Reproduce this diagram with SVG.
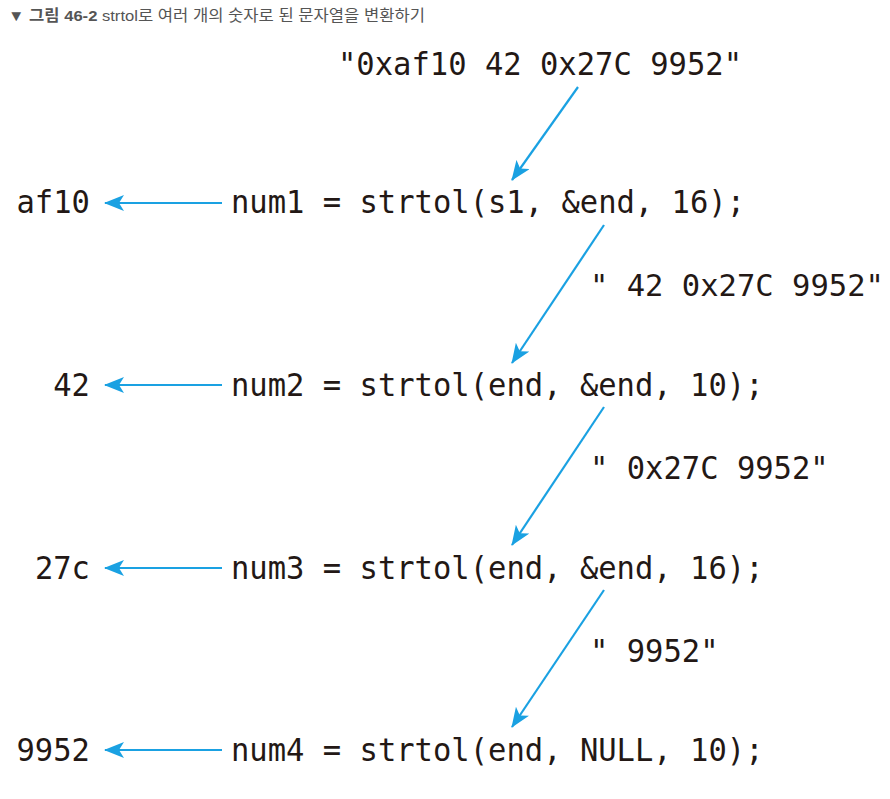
<svg xmlns="http://www.w3.org/2000/svg" width="890" height="799" viewBox="0 0 890 799">
<style>
.t{font-family:"DejaVu Sans Mono","Liberation Mono",monospace;font-size:32px;fill:#231815}
.ttl{font-family:"Liberation Sans","Noto Sans CJK KR",sans-serif;font-size:15.5px;fill:#555}
.a{stroke:#1aa1e2;stroke-width:2.2;fill:none;marker-end:url(#ah)}
</style>
<defs>
<marker id="ah" markerUnits="userSpaceOnUse" markerWidth="20" markerHeight="16" viewBox="0 0 20 16" refX="19" refY="8" orient="auto">
<path d="M0,0 L20,8 L0,16 L5,8 Z" fill="#1aa1e2"/>
</marker>
</defs>
<rect width="890" height="799" fill="#fff"/>
<text class="ttl" x="8" y="21" textLength="417" lengthAdjust="spacingAndGlyphs">▼ <tspan font-weight="bold">그림 46-2</tspan> strtol로 여러 개의 숫자로 된 문자열을 변환하기</text>
<g id="src"><text class="t" x="338" y="75" xml:space="preserve" textLength="404" lengthAdjust="spacingAndGlyphs">"0xaf10 42 0x27C 9952"</text></g>
<g id="call1"><text class="t" x="231" y="213" xml:space="preserve" textLength="514" lengthAdjust="spacingAndGlyphs">num1 = strtol(s1, &amp;end, 16);</text></g>
<g id="res1"><text class="t" x="16.5" y="213" textLength="73.4" lengthAdjust="spacingAndGlyphs">af10</text></g>
<g id="rest1"><text class="t" x="590" y="296" xml:space="preserve" style="font-size:31px" textLength="294" lengthAdjust="spacingAndGlyphs">" 42 0x27C 9952"</text></g>
<g id="call2"><text class="t" x="231" y="396" xml:space="preserve" textLength="532.5" lengthAdjust="spacingAndGlyphs">num2 = strtol(end, &amp;end, 10);</text></g>
<g id="res2"><text class="t" x="53.2" y="396" textLength="36.7" lengthAdjust="spacingAndGlyphs">42</text></g>
<g id="rest2"><text class="t" x="590" y="479" xml:space="preserve" textLength="238.7" lengthAdjust="spacingAndGlyphs">" 0x27C 9952"</text></g>
<g id="call3"><text class="t" x="231" y="579" xml:space="preserve" textLength="532.5" lengthAdjust="spacingAndGlyphs">num3 = strtol(end, &amp;end, 16);</text></g>
<g id="res3"><text class="t" x="34.9" y="579" textLength="55" lengthAdjust="spacingAndGlyphs">27c</text></g>
<g id="rest3"><text class="t" x="590" y="662" xml:space="preserve" textLength="128.5" lengthAdjust="spacingAndGlyphs">" 9952"</text></g>
<g id="call4"><text class="t" x="231" y="761" xml:space="preserve" textLength="532.5" lengthAdjust="spacingAndGlyphs">num4 = strtol(end, NULL, 10);</text></g>
<g id="res4"><text class="t" x="16.5" y="761" textLength="73.4" lengthAdjust="spacingAndGlyphs">9952</text></g>
<g id="connectors">
<line class="a" x1="578" y1="87" x2="512" y2="180"/>
<line class="a" x1="604" y1="225" x2="512" y2="363"/>
<line class="a" x1="604" y1="407" x2="512" y2="545"/>
<line class="a" x1="604" y1="590" x2="512" y2="727"/>
<line class="a" x1="222" y1="203" x2="105" y2="203"/>
<line class="a" x1="222" y1="385" x2="105" y2="385"/>
<line class="a" x1="222" y1="568" x2="105" y2="568"/>
<line class="a" x1="222" y1="750" x2="105" y2="750"/>
</g>
</svg>
